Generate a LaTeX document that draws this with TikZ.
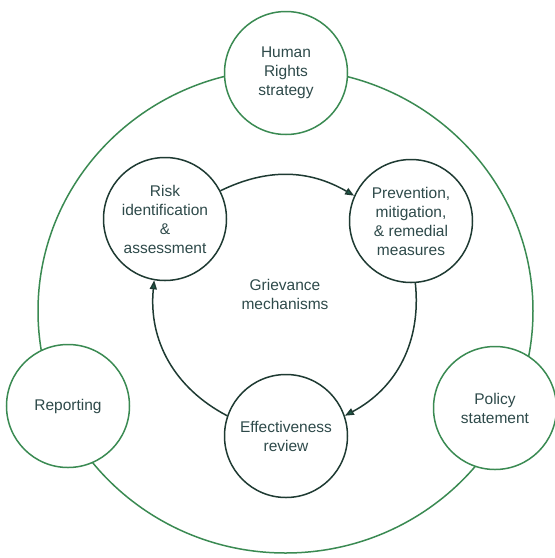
\documentclass[tikz,border=0pt]{standalone}
\usepackage{fontspec}
\setmainfont{Liberation Sans}
\usetikzlibrary{arrows.meta}
\definecolor{outergreen}{HTML}{3A8A52}
\definecolor{innerdark}{HTML}{1E3A32}
\definecolor{txt}{HTML}{2E4A4A}
\definecolor{tipgreen}{HTML}{1F5F4C}
\begin{document}
\begin{tikzpicture}[x=1pt,y=-1pt,
  lbl/.style={align=center, font=\fontsize{15.5}{19}\selectfont, text=txt},
  outer/.style={lbl, circle, draw=outergreen, line width=1.5pt, fill=white, minimum size=123pt, inner sep=0pt},
  inner/.style={outer, draw=innerdark},
  cyc/.style={draw=innerdark, line width=1.5pt, -{Triangle[length=9pt,width=7pt,fill=tipgreen]}}]
\useasboundingbox (0,0) rectangle (555,558);
\draw[outergreen, line width=1.5pt] (285.5,311) ellipse [x radius=247.5, y radius=242];
\node[outer] (hr) at (286,73) {Human\\Rights\\strategy};
\node[outer] (rep) at (68,406) {Reporting};
\node[outer] (pol) at (495,408) {Policy\\statement};
\node[inner] (risk) at (165,219) {Risk\\identification\\\&\\assessment};
\node[inner] (prev) at (411,221) {Prevention,\\mitigation,\\\& remedial\\measures};
\node[inner] (eff) at (286,436) {Effectiveness\\review};
\node[lbl] (griev) at (285,294) {Grievance\\mechanisms};
\draw[cyc] (risk.27) to[bend left=28] (prev.156);
\draw[cyc] (prev.274) to[bend left=34] (eff.19);
\draw[cyc] (eff.161) to[bend left=34] (risk.260);
\end{tikzpicture}
\end{document}
